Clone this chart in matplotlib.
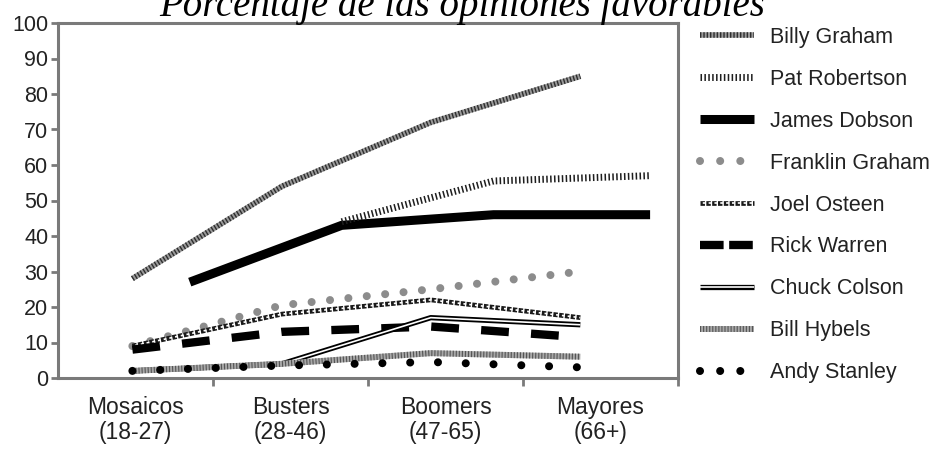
import numpy as np
import matplotlib
matplotlib.use("Agg")
import matplotlib.pyplot as plt
from matplotlib.lines import Line2D
from matplotlib.legend_handler import HandlerTuple

plt.rcParams["font.family"] = ["Liberation Sans", "DejaVu Sans"]
plt.rcParams["lines.scale_dashes"] = False

# --- data -------------------------------------------------------------
categories = ["Mosaicos\n(18-27)", "Busters\n(28-46)",
              "Boomers\n(47-65)", "Mayores\n(66+)"]

# category slots used by each group of series (two groups sit offset)
x_main = [-0.02, 0.945, 1.905, 2.87]
x_offset = [0.35, 1.33, 2.31, 3.32]

billy_graham = [28, 54, 72, 85]
pat_robertson = [np.nan, 44, 55.5, 57]
james_dobson = [27, 43, 46, 46]
franklin_graham = [9, 20.5, 25, 30]
joel_osteen = [9, 18, 22, 17]
rick_warren = [8, 13, 14.5, 11.5]
chuck_colson = [2, 4, 17, 15]
bill_hybels = [2, 4, 7, 6]
andy_stanley = [2, 3.5, 4.5, 3]

y_ticks = list(range(0, 101, 10))

# --- figure -----------------------------------------------------------
fig = plt.figure(figsize=(9.38, 4.49), dpi=100)
ax = fig.add_axes([58 / 938, 1 - 378 / 449, 620 / 938, 355 / 449])

frame = "#7a7a7a"

# line styles, one list of overlaid strokes per series
styles = {
    "Billy Graham": [
        dict(color="#9a9a9a", lw=4.0, solid_capstyle="butt"),
        dict(color="#2e2e2e", lw=4.0, dashes=(1.0, 1.4), dash_capstyle="butt"),
    ],
    "Pat Robertson": [
        dict(color="#1e1e1e", lw=5.0, dashes=(1.1, 1.7), dash_capstyle="butt"),
    ],
    "James Dobson": [
        dict(color="black", lw=6.5, solid_capstyle="butt"),
    ],
    "Franklin Graham": [
        dict(color="#8c8c8c", lw=5.8, dashes=(0.01, 13.3), dash_capstyle="round"),
    ],
    "Joel Osteen": [
        dict(color="#1a1a1a", lw=3.4, dashes=(3.2, 1.0), dash_capstyle="butt"),
        dict(color="white", lw=1.2, dashes=(0.01, 2.0, 2.0, 0.19), dash_capstyle="butt"),
    ],
    "Rick Warren": [
        dict(color="black", lw=6.0, dashes=(20, 16), dash_capstyle="butt"),
    ],
    "Chuck Colson": [
        dict(color="black", lw=3.8, solid_capstyle="butt"),
        dict(color="white", lw=1.2, solid_capstyle="butt"),
    ],
    "Bill Hybels": [
        dict(color="#a8a8a8", lw=4.3, solid_capstyle="butt"),
        dict(color="#555555", lw=4.3, dashes=(0.8, 1.4), dash_capstyle="butt"),
    ],
    "Andy Stanley": [
        dict(color="black", lw=5.8, dashes=(0.01, 20), dash_capstyle="round"),
    ],
}

# shorter repeats so the legend keys show the pattern a few times
legend_overrides = {
    "Franklin Graham": [dict(color="#8c8c8c", lw=5.8, dashes=(0.01, 14.5),
                             dash_capstyle="round")],
    "Rick Warren": [dict(color="black", lw=6.0, dashes=(17, 4),
                         dash_capstyle="butt")],
    "Andy Stanley": [dict(color="black", lw=5.8, dashes=(0.01, 14.5),
                          dash_capstyle="round")],
}

data = [
    ("Billy Graham", x_main, billy_graham, 3.0),
    ("Pat Robertson", x_offset, pat_robertson, 3.2),
    ("James Dobson", x_offset, james_dobson, 3.1),
    ("Franklin Graham", x_main, franklin_graham, 3.3),
    ("Joel Osteen", x_main, joel_osteen, 3.4),
    ("Rick Warren", x_main, rick_warren, 3.5),
    ("Chuck Colson", x_main, chuck_colson, 3.6),
    ("Bill Hybels", x_main, bill_hybels, 3.7),
    ("Andy Stanley", x_main, andy_stanley, 3.8),
]

handles, labels = [], []
for name, xs, ys, z in data:
    for i, st in enumerate(styles[name]):
        ax.plot(xs, ys, zorder=z + i * 0.01, **st)
    key = legend_overrides.get(name, styles[name])
    handles.append(tuple(Line2D([], [], **st) for st in key))
    labels.append(name)

# --- axes -------------------------------------------------------------
ax.set_xlim(-0.5, 3.5)
ax.set_ylim(0, 100)
ax.set_yticks(y_ticks)
ax.set_yticklabels([str(t) for t in y_ticks], fontsize=15.5, color="#222222")
ax.set_xticks(range(len(categories)))
ax.set_xticklabels(categories, fontsize=16.5, color="#222222", linespacing=1.1)
ax.set_xticks([0.5, 1.5, 2.5, 3.5], minor=True)
ax.tick_params(axis="x", which="major", length=0, pad=13)
ax.tick_params(axis="x", which="minor", length=6, width=2, color=frame, direction="out")
ax.tick_params(axis="y", length=5, width=2, color=frame, direction="out", pad=2)
for sp in ax.spines.values():
    sp.set_color(frame)
    sp.set_linewidth(2.2)

# --- legend -----------------------------------------------------------
fig.legend(handles, labels, loc="upper left",
           bbox_to_anchor=(700 / 938, 1 - 27 / 449),
           bbox_transform=fig.transFigure,
           frameon=False, fontsize=15.5, handlelength=2.5,
           handletextpad=0.75, labelspacing=0.97, borderpad=0,
           borderaxespad=0, labelcolor="#222222",
           handler_map={tuple: HandlerTuple(ndivide=1)})

# --- title (runs past the top edge of the canvas) ----------------------
fig.text(462 / 938, 1 - 16 / 449, "Porcentaje de las opiniones favorables",
         ha="center", va="baseline", fontsize=28, style="italic",
         family="Liberation Serif", color="black")

fig.savefig("out.png", dpi=100)
